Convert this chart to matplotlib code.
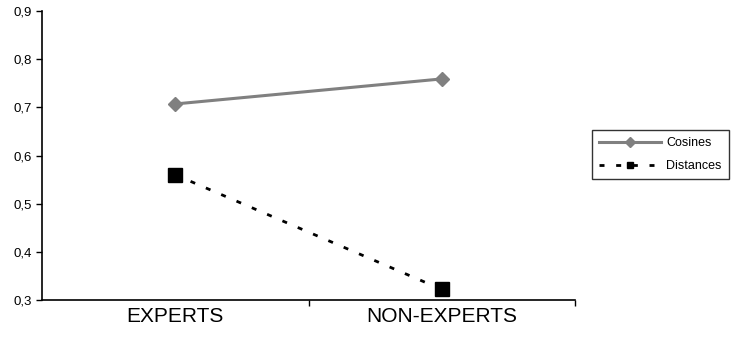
import matplotlib
matplotlib.use("Agg")
import matplotlib.pyplot as plt

categories = ["EXPERTS", "NON-EXPERTS"]
cosines = [0.707, 0.759]
distances = [0.560, 0.322]
yticks = [0.3, 0.4, 0.5, 0.6, 0.7, 0.8, 0.9]
ytick_labels = ["0,3", "0,4", "0,5", "0,6", "0,7", "0,8", "0,9"]

plt.rcParams['font.family'] = ['Liberation Sans', 'DejaVu Sans']

fig = plt.figure(figsize=(7.36, 3.38), dpi=100)
W, H = 736, 338
ax = fig.add_axes([42 / W, 1 - 300 / H, (575 - 42) / W, (300 - 11) / H])

x = [0.5, 1.5]
ax.plot(x, cosines, color="#808080", lw=2.2, marker="D", markersize=7,
        markerfacecolor="#808080", markeredgecolor="#808080", label="Cosines")
ax.plot(x, distances, color="black", lw=2, linestyle=(0, (1.8, 4.2)), marker="s",
        markersize=10, markerfacecolor="black", markeredgecolor="black",
        label="Distances")

ax.set_xlim(0, 2)
ax.set_ylim(0.3, 0.9)
ax.set_yticks(yticks)
ax.set_yticklabels(ytick_labels, fontsize=9.5)
ax.set_xticks([1, 2])
ax.set_xticklabels([])
ax.set_xticks(x, minor=True)
ax.set_xticklabels(categories, minor=True, fontsize=15)
ax.tick_params(axis="x", which="minor", length=0, pad=5)
ax.tick_params(axis="x", which="major", length=4, direction="out", width=1)
ax.tick_params(axis="y", length=4, direction="out", width=1, pad=3)

for s in ["top", "right"]:
    ax.spines[s].set_visible(False)
for s in ["left", "bottom"]:
    ax.spines[s].set_linewidth(1.2)

leg = fig.legend(loc="upper left", bbox_to_anchor=(592 / W, 1 - 130 / H),
                 fontsize=9, frameon=True, fancybox=False, edgecolor="black",
                 handlelength=5.0, borderpad=0.55, labelspacing=0.9,
                 handletextpad=0.4, borderaxespad=0)
leg.get_frame().set_linewidth(1)
for h in leg.legend_handles:
    h.set_markersize(5)

fig.savefig("out.png", dpi=100)
